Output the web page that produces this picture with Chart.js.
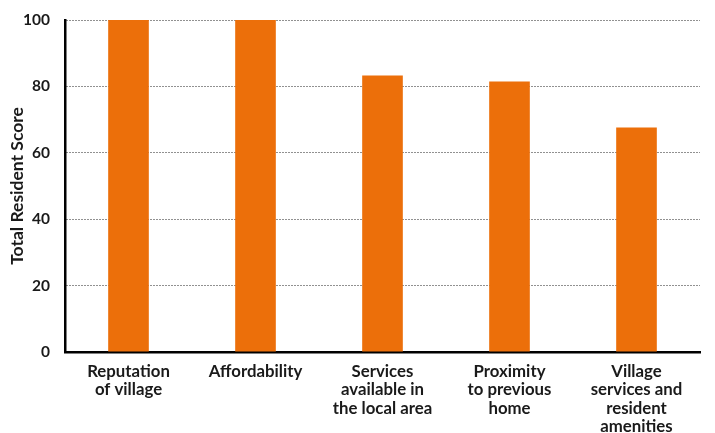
<!DOCTYPE html>
<html>
<head>
<meta charset="utf-8">
<script src="https://cdn.jsdelivr.net/npm/chart.js@4"></script>
<style>
  html, body { margin: 0; padding: 0; background: #fff; }
  #wrap { width: 715px; height: 433px; }
</style>
</head>
<body>
<div id="wrap"><canvas id="myChart" width="715" height="433"></canvas></div>
<script>
// data
const categorias = [
  ['Reputation', 'of village'],
  ['Affordability'],
  ['Services', 'available in', 'the local area'],
  ['Proximity', 'to previous', 'home'],
  ['Village', 'services and', 'resident', 'amenities']
];
const puntajes = [100, 100, 83.3, 81.5, 67.6];
const ticksY = [0, 20, 40, 60, 80, 100];

const naranja = '#ec6f0a';
const fuente = 'Lato, "Open Sans", sans-serif';

(() => {
  'use strict'
  const ctx = document.getElementById('myChart')

  // eslint-disable-next-line no-unused-vars
  const myChart = new Chart(ctx, {
    type: 'bar',
    data: {
      labels: categorias,
      datasets: [{
        data: puntajes,
        backgroundColor: naranja,
        borderWidth: 0,
        barPercentage: 0.32,
        categoryPercentage: 1
      }]
    },
    options: {
      responsive: false,
      animation: false,
      layout: { padding: { top: 20, right: 15, left: 0, bottom: 0 } },
      plugins: {
        legend: { display: false },
        tooltip: { enabled: false }
      },
      scales: {
        x: {
          afterFit: (axis) => { axis.height = 81 },
          grid: { display: false, drawTicks: false },
          border: { display: true, color: '#000', width: 2.5 },
          ticks: {
            color: '#1a1a1a',
            padding: 10,
            maxRotation: 0,
            autoSkip: false,
            font: { family: fuente, size: 16.8, weight: 'bold', lineHeight: 1.1 }
          }
        },
        y: {
          min: 0,
          max: 100,
          afterBuildTicks: (axis) => { axis.ticks = ticksY.map(v => ({ value: v })) },
          afterFit: (axis) => {
            axis.width = 65
            axis.paddingTop = 0
            axis.paddingBottom = 0
          },
          grid: { color: '#222', lineWidth: 1, drawTicks: false },
          border: { display: true, color: '#000', width: 2.5, dash: [1, 2] },
          ticks: {
            color: '#1a1a1a',
            padding: 15,
            font: { family: fuente, size: 15.5, weight: 'bold' }
          },
          title: {
            display: true,
            text: 'Total Resident Score',
            color: '#1a1a1a',
            padding: { top: 7, bottom: 0 },
            font: { family: fuente, size: 17.5, weight: 'bold' }
          }
        }
      }
    }
  })
})()
</script>
</body>
</html>
